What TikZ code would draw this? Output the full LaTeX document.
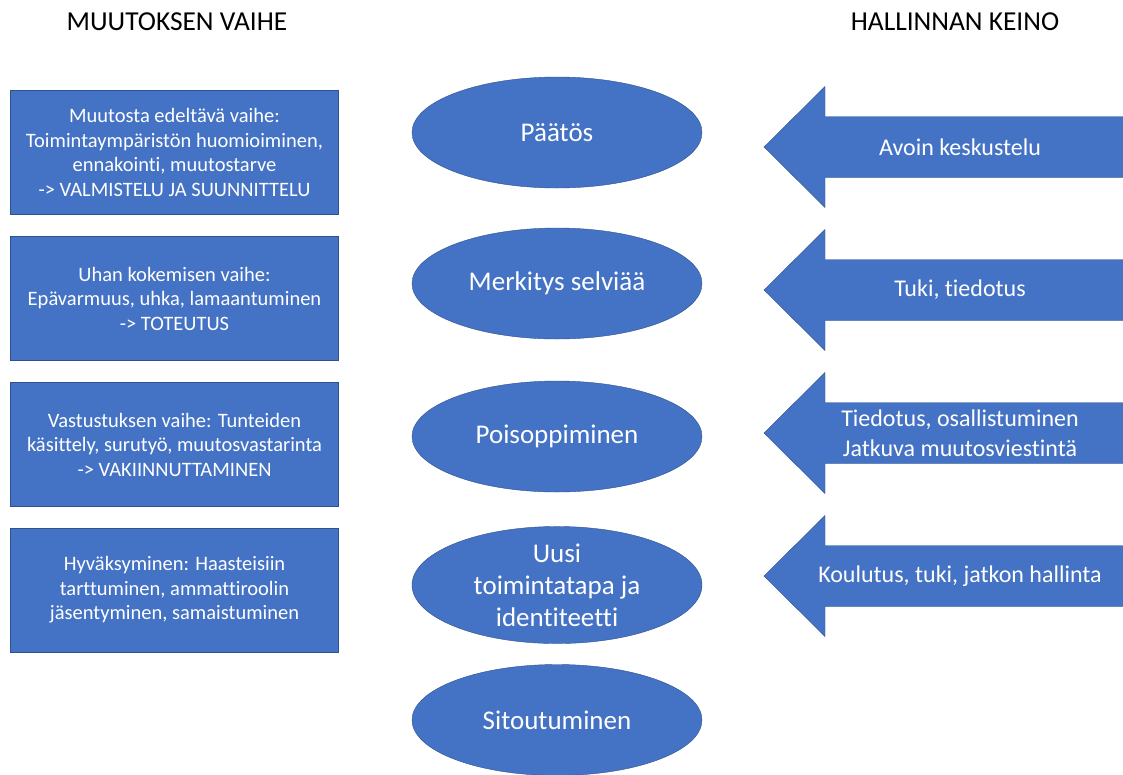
\documentclass[tikz,border=0pt]{standalone}
\usepackage{fontspec}
\setmainfont[Ligatures=NoCommon]{Carlito}
\usetikzlibrary{shapes.geometric}
\definecolor{vaiheblue}{HTML}{4472C4}
\definecolor{reunablue}{HTML}{2F528F}
\begin{document}
\begin{tikzpicture}[x=1pt, y=-1pt, line join=miter]

		\tikzset{vaihe/.style={rectangle, draw=reunablue, fill=vaiheblue, text=white, minimum width=328pt, minimum height=124pt, inner sep=0pt, align=center, font=\fontsize{20.5}{24.5}\selectfont},
		tila/.style={ellipse, draw=reunablue, fill=vaiheblue, text=white, minimum width=290pt, minimum height=111pt, inner sep=0pt, align=center, font=\fontsize{27}{32}\selectfont},
		keino/.style={draw=reunablue, fill=vaiheblue},
		keinoteksti/.style={text=white, align=center, font=\fontsize{24}{30}\selectfont},
		otsikko/.style={font=\fontsize{27.4}{30}\selectfont}}

		\useasboundingbox (0,0) rectangle (1123,774);
		\clip (0,0) rectangle (1123,774);

		\node[otsikko] (muutos) at (177,22) {MUUTOKSEN VAIHE};
		\node[otsikko] (hallinta) at (955,22) {HALLINNAN KEINO};

		\node[vaihe] (vaihe1) at (174.5,152.5) {Muutosta edeltävä vaihe:\\Toimintaympäristön huomioiminen,\\ennakointi, muutostarve\\-> VALMISTELU JA SUUNNITTELU};
		\node[vaihe] (vaihe2) at (174.5,298.5) {Uhan kokemisen vaihe:\\Epävarmuus, uhka, lamaantuminen\\-> TOTEUTUS};
		\node[vaihe] (vaihe3) at (174.5,444.5) {Vastustuksen vaihe: Tunteiden\\käsittely, surutyö, muutosvastarinta\\-> VAKIINNUTTAMINEN};
		\node[vaihe] (vaihe4) at (174.5,590) {Hyväksyminen: Haasteisiin\\tarttuminen, ammattiroolin\\jäsentyminen, samaistuminen};

		\foreach \y/\nimi/\teksti in {132.5/tila1/{Päätös}, 283.5/tila2/{Merkitys selviää}, 436.5/tila3/{Poisoppiminen}, 585/tila4/{Uusi\\toimintatapa ja\\identiteetti}, 720/tila5/{Sitoutuminen}}
		\node[tila] (\nimi) at (557,\y) {\teksti};

		\foreach \y/\nimi/\teksti in {147/keino1/{Avoin keskustelu}, 290/keino2/{Tuki, tiedotus}, 433/keino3/{Tiedotus, osallistuminen\\Jatkuva muutosviestintä}, 576/keino4/{Koulutus, tuki, jatkon hallinta}}
		{
		\draw[keino] (764,\y) -- (825,{\y-60.5}) -- (825,{\y-30.5}) -- (1130,{\y-30.5}) -- (1130,{\y+30.5}) -- (825,{\y+30.5}) -- (825,{\y+60.5}) -- cycle;
		\node[keinoteksti] (\nimi) at (960,\y) {\teksti};
		}
		\end{tikzpicture}
\end{document}
